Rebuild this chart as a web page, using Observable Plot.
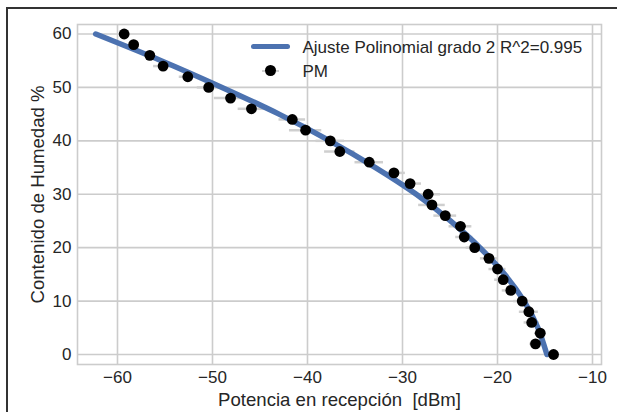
<!DOCTYPE html>
<html>
<head>
<meta charset="utf-8">
<script src="https://cdn.jsdelivr.net/npm/d3@7"></script>
<script src="https://cdn.jsdelivr.net/npm/@observablehq/plot@0.6"></script>
<style>
  html, body { margin: 0; padding: 0; background: #fff; }
  #wrap { position: relative; width: 617px; height: 412px; overflow: hidden; font-family: "Liberation Sans", Arial, sans-serif; }
  #border { position: absolute; left: 6px; top: 7px; right: -10px; bottom: -10px; border-left: 2px solid #333; border-top: 2px solid #333; pointer-events: none; }
  .leg { position: absolute; color: #262626; font-size: 17px; line-height: 1; white-space: nowrap; }
</style>
</head>
<body>
<div id="wrap"></div>
<script>
// Measured points (PM)
const potencia = [-59.3, -58.3, -56.6, -55.2, -52.6, -50.4, -48.1, -45.9, -41.6, -40.2,
                  -37.6, -36.6, -33.5, -30.9, -29.2, -27.3, -26.9, -25.5, -23.9, -23.5,
                  -22.4, -20.9, -20.0, -19.4, -18.6, -17.4, -16.7, -16.4, -15.5, -16.0, -14.1];
const humedad  = [60, 58, 56, 54, 52, 50, 48, 46, 44, 42,
                  40, 38, 36, 34, 32, 30, 28, 26, 24, 22,
                  20, 18, 16, 14, 12, 10, 8, 6, 4, 2, 0];
const errorX   = [0.4, 0.5, 0.5, 1.0, 0.9, 1.2, 1.7, 1.4, 1.4, 1.7,
                  1.5, 1.6, 1.5, 1.2, 1.2, 1.3, 1.4, 1.2, 1.2, 0.9,
                  0.9, 0.9, 0.9, 0.9, 0.9, 0.9, 1.0, 0.8, 0.6, 0.6, 0.5];

// Fitted curve
const ajusteY = [0, 5, 10, 15, 20, 25, 30, 35, 40, 45, 50, 55, 60];
const ajusteX = [-14.8, -15.75, -17.2, -19.25, -21.85, -24.95, -28.55, -32.85, -37.65, -43.0, -49.0, -55.4, -62.3];

const xTicks = [-60, -50, -40, -30, -20, -10];
const yTicks = [0, 10, 20, 30, 40, 50, 60];

const puntos = potencia.map((x, i) => ({x, y: humedad[i], e: errorX[i]}));
const ajuste = ajusteX.map((x, i) => ({x, y: ajusteY[i]}));

const blue = "#4c72b0";
const grid = "#cccccc";

const chart = Plot.plot({
  width: 617,
  height: 412,
  marginLeft: 77,
  marginTop: 24,
  marginRight: 16,
  marginBottom: 48,
  style: {fontFamily: '"Liberation Sans", Arial, sans-serif', fontSize: "17px", color: "#262626", background: "transparent"},
  x: {domain: [-64.21, -9.053], ticks: xTicks},
  y: {domain: [-1.872, 61.78], ticks: yTicks},
  marks: [
    Plot.gridX(xTicks, {stroke: grid, strokeOpacity: 1, strokeWidth: 1.6}),
    Plot.gridY(yTicks, {stroke: grid, strokeOpacity: 1, strokeWidth: 1.6}),
    Plot.frame({stroke: grid, strokeWidth: 1.6}),
    Plot.axisX(xTicks, {tickSize: 0, tickPadding: 6, label: null, fontSize: 17, fill: "#262626"}),
    Plot.axisY(yTicks, {tickSize: 0, tickPadding: 6, label: null, fontSize: 17, fill: "#262626"}),
    Plot.ruleY(puntos, {y: "y", x1: d => d.x - d.e, x2: d => d.x + d.e, stroke: "#cfcfcf", strokeWidth: 2.5}),
    Plot.line(ajuste, {x: "x", y: "y", stroke: blue, strokeWidth: 5.5, curve: "natural", strokeLinecap: "round"}),
    Plot.dot(puntos, {x: "x", y: "y", r: 5.4, fill: "black", stroke: "none"}),
    Plot.text(["Potencia en recepción  [dBm]"], {frameAnchor: "bottom", dy: 36, lineAnchor: "middle", fontSize: 18.6, fill: "#262626"}),
    Plot.text(["Contenido de Humedad %"], {frameAnchor: "left", dx: -39, rotate: -90, lineAnchor: "middle", textAnchor: "middle", fontSize: 18.6, fill: "#262626"})
  ]
});

const wrap = document.getElementById("wrap");
wrap.appendChild(chart);
chart.style.position = "absolute";
chart.style.left = "0px";
chart.style.top = "0px";

// Legend
const leg = [
  `<div style="position:absolute;left:251px;top:44.2px;width:39px;height:5px;background:${blue};border-radius:2.5px"></div>`,
  `<div class="leg" style="left:302.5px;top:38.5px">Ajuste Polinomial grado 2 R^2=0.995</div>`,
  `<div style="position:absolute;left:261.7px;top:69.5px;width:17.6px;height:2.5px;background:#cfcfcf"></div>`,
  `<div style="position:absolute;left:265.3px;top:65.3px;width:10.8px;height:10.8px;border-radius:50%;background:#000"></div>`,
  `<div class="leg" style="left:302.5px;top:62.5px">PM</div>`,
  `<div id="border"></div>`
].join("");
wrap.insertAdjacentHTML("beforeend", leg);
</script>
</body>
</html>
